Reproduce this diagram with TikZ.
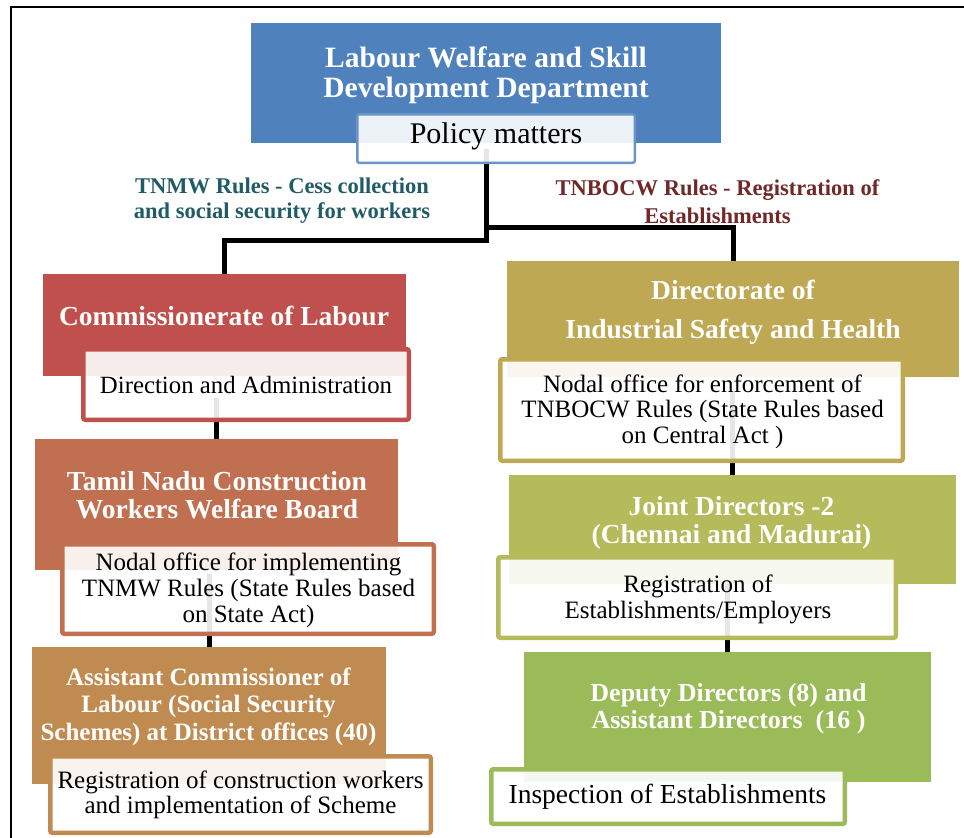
\documentclass[tikz,border=0pt]{standalone}
\usepackage{fontspec}
\setmainfont{Liberation Serif}
\pgfdeclarelayer{bg}
\pgfsetlayers{bg,main}
\definecolor{cblue}{HTML}{4F81BD}
\definecolor{cred}{HTML}{C0504D}
\definecolor{cterra}{HTML}{C07050}
\definecolor{ctan}{HTML}{BF8B50}
\definecolor{cgold}{HTML}{BEA854}
\definecolor{cyg}{HTML}{B5BB5A}
\definecolor{cgreen}{HTML}{9BBB59}
\definecolor{cteal}{HTML}{215B66}
\definecolor{cdred}{HTML}{702828}
\tikzset{
  mainbox/.style={rectangle, draw=none, fill=#1, inner sep=0pt, outer sep=0pt},
  subbox/.style={rectangle, draw=#1, line width=4.5pt, fill=white, fill opacity=0.9, rounded corners=2pt, inner sep=0pt, outer sep=0pt},
  ttl/.style={text=white, font=\fontsize{27.5}{28}\selectfont\bfseries, align=center, anchor=base, inner sep=0pt},
  subtxt/.style={text=black, font=\fontsize{25}{26}\selectfont, align=center, anchor=base, inner sep=0pt},
  lbl/.style={font=\fontsize{22.5}{25}\selectfont\bfseries, align=center, anchor=base, inner sep=0pt},
  conn/.style={line width=5pt, draw=black},
  frameline/.style={line width=2pt, draw=black},
}
\begin{document}
\begin{tikzpicture}[x=1pt,y=-1pt]
\useasboundingbox (0,0) rectangle (964,838);
\draw[frameline] (964,7) -- (11,7) -- (11,838);

% top (text nodes are anchored at the baseline of their last line)
\node[mainbox=cblue, minimum width=470pt, minimum height=120pt] (top) at (486,83) {};
\node[subbox=cblue!85, line width=2.5pt, minimum width=277.5pt, minimum height=48.5pt] (pol) at (496,138.5) {};
\node[ttl, font=\fontsize{29.5}{30}\selectfont\bfseries] (toptxt) at (486,97) {Labour Welfare and Skill\\Development Department};
\node[subtxt, font=\fontsize{30}{30}\selectfont] (poltxt) at (496,143) {Policy matters};

% labels
\node[lbl, text=cteal] (lblL) at (282,218) {TNMW Rules - Cess collection\\and social security for workers};
\node[lbl, text=cdred, font=\fontsize{22.5}{28}\selectfont\bfseries] (lblR) at (717.5,223) {TNBOCW Rules - Registration of\\Establishments};

% left column
\node[mainbox=cred, minimum width=363pt, minimum height=102pt] (com) at (224.5,325) {};
\node[subbox=cred, minimum width=325.5pt, minimum height=70.5pt] (dira) at (246,384.5) {};
\node[ttl] (comtxt) at (224,325) {Commissionerate of Labour};
\node[subtxt, font=\fontsize{24.8}{26}\selectfont] (diratxt) at (246,393) {Direction and Administration};

\node[mainbox=cterra, minimum width=363pt, minimum height=131pt] (tnc) at (216.5,504.5) {};
\node[subbox=cterra, minimum width=371.5pt, minimum height=89.5pt] (nod1) at (248,589) {};
\node[ttl] (tnctxt) at (217,518) {Tamil Nadu Construction\\Workers Welfare Board};
\node[subtxt] (nod1txt) at (248.5,622) {Nodal office for implementing\\TNMW Rules (State Rules based\\on State Act)};

\node[mainbox=ctan, minimum width=354pt, minimum height=137pt] (asst) at (209,715.5) {};
\node[subbox=ctan, minimum width=380.5pt, minimum height=76.5pt] (reg1) at (240.5,794.5) {};
\node[ttl, font=\fontsize{25}{27.5}\selectfont\bfseries] (assttxt) at (208.5,740) {Assistant Commissioner of\\Labour (Social Security\\Schemes) at District offices (40)};
\node[subtxt, font=\fontsize{25}{25}\selectfont] (reg1txt) at (240.5,813) {Registration of construction workers\\and implementation of Scheme};

% right column
\node[mainbox=cgold, minimum width=452pt, minimum height=116pt] (dir) at (733,319) {};
\node[subbox=cgold, minimum width=402.5pt, minimum height=101.5pt] (nod2) at (701.5,410) {};
\node[ttl, font=\fontsize{27.5}{39}\selectfont\bfseries] (dirtxt) at (733,338) {Directorate of\\Industrial Safety and Health};
\node[subtxt, font=\fontsize{25}{25.5}\selectfont] (nod2txt) at (702.5,443) {Nodal office for enforcement of\\TNBOCW Rules (State Rules based\\on Central Act )};

\node[mainbox=cyg, minimum width=447pt, minimum height=109pt] (joint) at (732.5,529.5) {};
\node[subbox=cyg, minimum width=397.5pt, minimum height=80.5pt] (reg2) at (697,597.5) {};
\node[ttl] (jointtxt) at (731.5,543) {Joint Directors -2\\(Chennai and Madurai)};
\node[subtxt] (reg2txt) at (698,618) {Registration of\\Establishments/Employers};

\node[mainbox=cgreen, minimum width=407pt, minimum height=130pt] (dep) at (727.5,717) {};
\node[subbox=cgreen, minimum width=353.5pt, minimum height=54.5pt] (insp) at (668,796.5) {};
\node[ttl, font=\fontsize{26}{26.5}\selectfont\bfseries] (deptxt) at (728.5,728) {Deputy Directors (8) and\\Assistant Directors~ (16 )};
\node[subtxt, font=\fontsize{27.5}{26}\selectfont] (insptxt) at (667.5,803) {Inspection of Establishments};

% connectors
\coordinate (jL) at (486,240);
\coordinate (jR) at (486,227.5);
\begin{pgfonlayer}{bg}
\draw[conn] ([yshift=14pt]top.center |- pol.south) -- (jL) -| (com.north);
\draw[conn] (jR) -| (dir.north);
\draw[conn] ([yshift=22pt]dira.south -| tnc.north) -- (tnc.north);
\draw[conn] ([yshift=60pt]nod1.south -| asst.north) -- (asst.north);
\draw[conn] ([yshift=70pt]nod2.south -| joint.north) -- (joint.north);
\draw[conn] ([yshift=78pt]reg2.south -| dep.north) -- (dep.north);
\end{pgfonlayer}
\end{tikzpicture}
\end{document}
